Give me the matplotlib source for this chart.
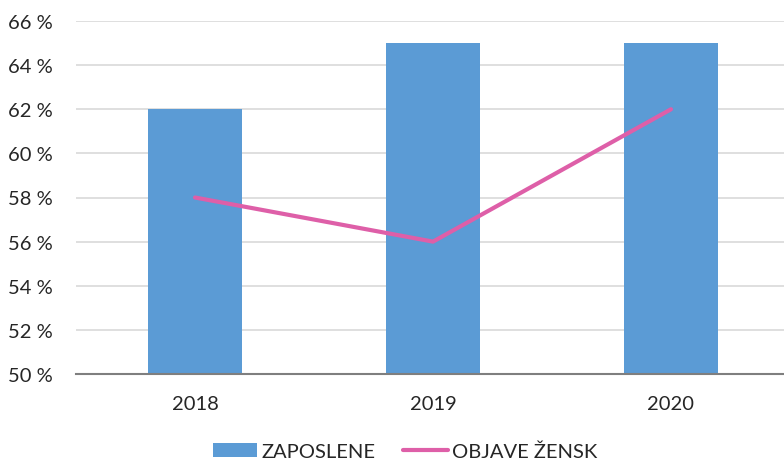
import matplotlib.pyplot as plt
from matplotlib.ticker import FuncFormatter

plt.rcParams['font.family'] = ['Lato', 'DejaVu Sans']

years = ['2018', '2019', '2020']
zaposlene = [62, 65, 65]
objave_zensk = [58, 56, 62]

fig = plt.figure(figsize=(7.84, 4.6), dpi=100)
ax = fig.add_axes([76 / 784, (460 - 375) / 460, 714 / 784, (375 - 22) / 460])

x = range(len(years))
bars = ax.bar(x, zaposlene, width=0.395, color='#5B9BD5', label='ZAPOSLENE', zorder=2)
line, = ax.plot(x, objave_zensk, color='#DE5FA8', lw=3, label='OBJAVE ŽENSK', zorder=3,
                solid_capstyle='round')

ax.set_ylim(50, 66)
ax.set_xlim(-0.5, 2.5)
ax.set_yticks(range(50, 67, 2))
ax.yaxis.set_major_formatter(FuncFormatter(lambda v, p: f'{int(v)} %'))
ax.set_xticks(list(x))
ax.set_xticklabels(years)
ax.grid(axis='y', color='#D9D9D9', lw=1.2, zorder=0)
for s in ['top', 'right', 'left']:
    ax.spines[s].set_visible(False)
ax.spines['bottom'].set_color('#7F7F7F')
ax.spines['bottom'].set_linewidth(1.5)
ax.tick_params(length=0, labelsize=14.5, colors='#262626')
ax.tick_params(axis='y', pad=17)
ax.tick_params(axis='x', pad=15)

fig.legend([bars, line], ['ZAPOSLENE', 'OBJAVE ŽENSK'], loc='center',
           bbox_to_anchor=(405 / 784, 1 - 452 / 460), ncol=2,
           frameon=False, fontsize=14.5, handlelength=2.2, columnspacing=1.4,
           handletextpad=0.2, labelcolor='#262626')

fig.savefig('out.png', dpi=100)
